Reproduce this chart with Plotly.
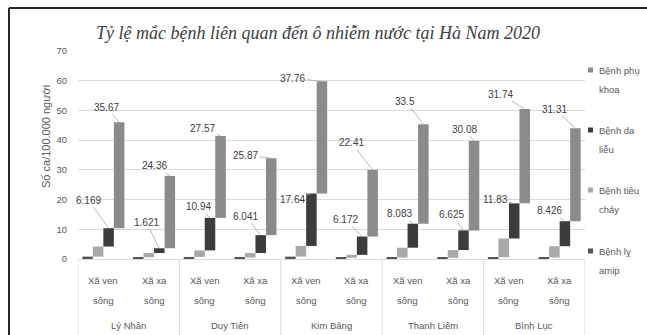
import plotly.graph_objects as go

# Districts of Hà Nam and the two commune types surveyed in each
districts = ["Lý Nhân", "Duy Tiên", "Kim Bảng", "Thanh Liêm", "Bình Lục"]
zone_lines = [("Xã ven", "sông"), ("Xã xa", "sông")]

# Cases per 100,000 people, listed district by district (ven sông, xa sông)
ly_amip = [0.8, 0.6, 0.7, 0.5, 0.8, 0.4, 0.5, 0.4, 0.6, 0.5]
tieu_chay = [3.4, 1.4, 2.2, 1.5, 3.6, 1.0, 3.3, 2.6, 6.3, 3.8]
da_lieu = [6.169, 1.621, 10.94, 6.041, 17.64, 6.172, 8.083, 6.625, 11.83, 8.426]
phu_khoa = [35.67, 24.36, 27.57, 25.87, 37.76, 22.41, 33.5, 30.08, 31.74, 31.31]

series_names = ["Bệnh lỵ amip", "Bệnh tiêu chảy", "Bệnh da liễu", "Bệnh phụ khoa"]
legend_lines = [("Bệnh lỵ", "amip"), ("Bệnh tiêu", "chảy"), ("Bệnh da", "liễu"), ("Bệnh phụ", "khoa")]
series_values = [ly_amip, tieu_chay, da_lieu, phu_khoa]
colors = ["#555555", "#a9a9a9", "#3c3c3c", "#8b8b8b"]

# Pixel geometry of the plot area inside the 647x335 page
W, H = 647, 335
L, R, T, B = 78, 585, 51, 259
BARGAP = 0.17
GREY_TEXT = "#595959"
FONT = "Liberation Sans"


def px_x(p):
    return (p - L) / (R - L)


def px_y(p):
    return (B - p) / (B - T)


n_cat = len(districts) * len(zone_lines)
cat_pos = list(range(n_cat))

fig = go.Figure()
cum = [0.0] * n_cat
tops = []
for name, vals, col in zip(series_names, series_values, colors):
    base = list(cum)
    fig.add_trace(go.Bar(
        x=cat_pos, y=vals, base=base, name=name,
        marker=dict(color=col, line=dict(width=0)),
        showlegend=False,
    ))
    cum = [b + v for b, v in zip(base, vals)]
    tops.append(list(cum))

# Horizontal position of each series inside a category slot (grouped bars)
n = len(series_names)
bw = (1 - BARGAP) / n


def slot_offset(k):
    return -(1 - BARGAP) / 2 + (k + 0.5) * bw


annotations = []
shapes = []

# Data labels with leader lines for the two labelled series
label_shift = {
    2: [(-20, -28), (-13, -26), (-12, -11), (-15, -19), (-19, 6),
        (-17, -17), (-13, -10), (-12, -16), (-19, -4), (-15, -11)],
    3: [(-13, -15), (-15, -10), (-18, -7), (-26, -3), (-29, -3),
        (-21, -27), (-18, -23), (-10, -12), (-24, -15), (-21, -19)],
}
for k, shifts in label_shift.items():
    vals = series_values[k]
    for i, v in enumerate(vals):
        dx, dy = shifts[i]
        annotations.append(dict(
            x=i + slot_offset(k), y=tops[k][i], xref="x", yref="y",
            text=f"{v:g}", showarrow=True, arrowhead=0, arrowwidth=0.8,
            arrowcolor="#a6a6a6", ax=dx, ay=dy, standoff=0,
            font=dict(family=FONT, size=10, color="#404040"),
        ))

# Category axis: two-line commune labels, district labels and dividers
for i in cat_pos:
    first, second = zone_lines[i % len(zone_lines)]
    for text, row in ((first, 280), (second, 300)):
        annotations.append(dict(
            x=i, y=px_y(row), xref="x", yref="paper", text=text,
            showarrow=False, yanchor="middle",
            font=dict(family=FONT, size=9.5, color=GREY_TEXT),
        ))
for j, d in enumerate(districts):
    annotations.append(dict(
        x=j * len(zone_lines) + (len(zone_lines) - 1) / 2, y=px_y(325),
        xref="x", yref="paper", text=d, showarrow=False, yanchor="middle",
        font=dict(family=FONT, size=9.5, color=GREY_TEXT),
    ))
for j in range(len(districts) + 1):
    xd = j * len(zone_lines) - 0.5
    shapes.append(dict(type="line", xref="x", yref="paper",
                       x0=xd, x1=xd, y0=0, y1=px_y(H + 5),
                       line=dict(color="#d9d9d9", width=1)))

# Y-axis title
annotations.append(dict(
    x=px_x(38), y=px_y(137), xref="paper", yref="paper",
    text="Số ca/100.000 người", textangle=-90, showarrow=False,
    font=dict(family=FONT, size=11, color=GREY_TEXT),
))

# Legend beside the plot, back series first
legend_rows = [70, 130, 190, 251]
for row, k in zip(legend_rows, [3, 2, 1, 0]):
    shapes.append(dict(
        type="rect", xref="paper", yref="paper",
        x0=px_x(588), x1=px_x(593), y0=px_y(row + 2.5), y1=px_y(row - 2.5),
        fillcolor=colors[k], line=dict(width=0),
    ))
    for text, dy in zip(legend_lines[k], (0, 19)):
        annotations.append(dict(
            x=px_x(597), y=px_y(row + dy), xref="paper", yref="paper",
            xanchor="left", yanchor="middle", showarrow=False, text=text,
            font=dict(family=FONT, size=9.5, color=GREY_TEXT),
        ))

# Outer frame (top and left edges)
shapes.append(dict(type="line", xref="paper", yref="paper",
                   x0=px_x(9), x1=px_x(W + 5), y0=px_y(8), y1=px_y(8),
                   line=dict(color="#262626", width=2)))
shapes.append(dict(type="line", xref="paper", yref="paper",
                   x0=px_x(9), x1=px_x(9), y0=px_y(8), y1=px_y(H + 5),
                   line=dict(color="#262626", width=2)))

fig.update_layout(
    width=W, height=H,
    margin=dict(l=L, r=W - R, t=T, b=H - B),
    paper_bgcolor="white", plot_bgcolor="white",
    barmode="group", bargap=BARGAP, bargroupgap=0,
    title=dict(
        text="Tỷ lệ mắc bệnh liên quan đến ô nhiễm nước tại Hà Nam 2020",
        x=px_x(318), xref="paper", xanchor="center",
        y=1 - 33 / H, yanchor="middle",
        font=dict(family="Liberation Serif", size=18, color="#404040", style="italic"),
    ),
    annotations=annotations,
    shapes=shapes,
    showlegend=False,
)
fig.update_yaxes(
    range=[0, 70], dtick=10, showgrid=True, gridcolor="#d9d9d9", gridwidth=1,
    zeroline=True, zerolinecolor="#d9d9d9", zerolinewidth=1,
    showline=False, ticks="", ticklabelstandoff=10,
    tickfont=dict(family=FONT, size=9.5, color=GREY_TEXT),
)
fig.update_xaxes(
    range=[-0.5, n_cat - 0.5], showgrid=False, showline=False, zeroline=False,
    ticks="", showticklabels=False,
)

fig.write_html("out.html")
